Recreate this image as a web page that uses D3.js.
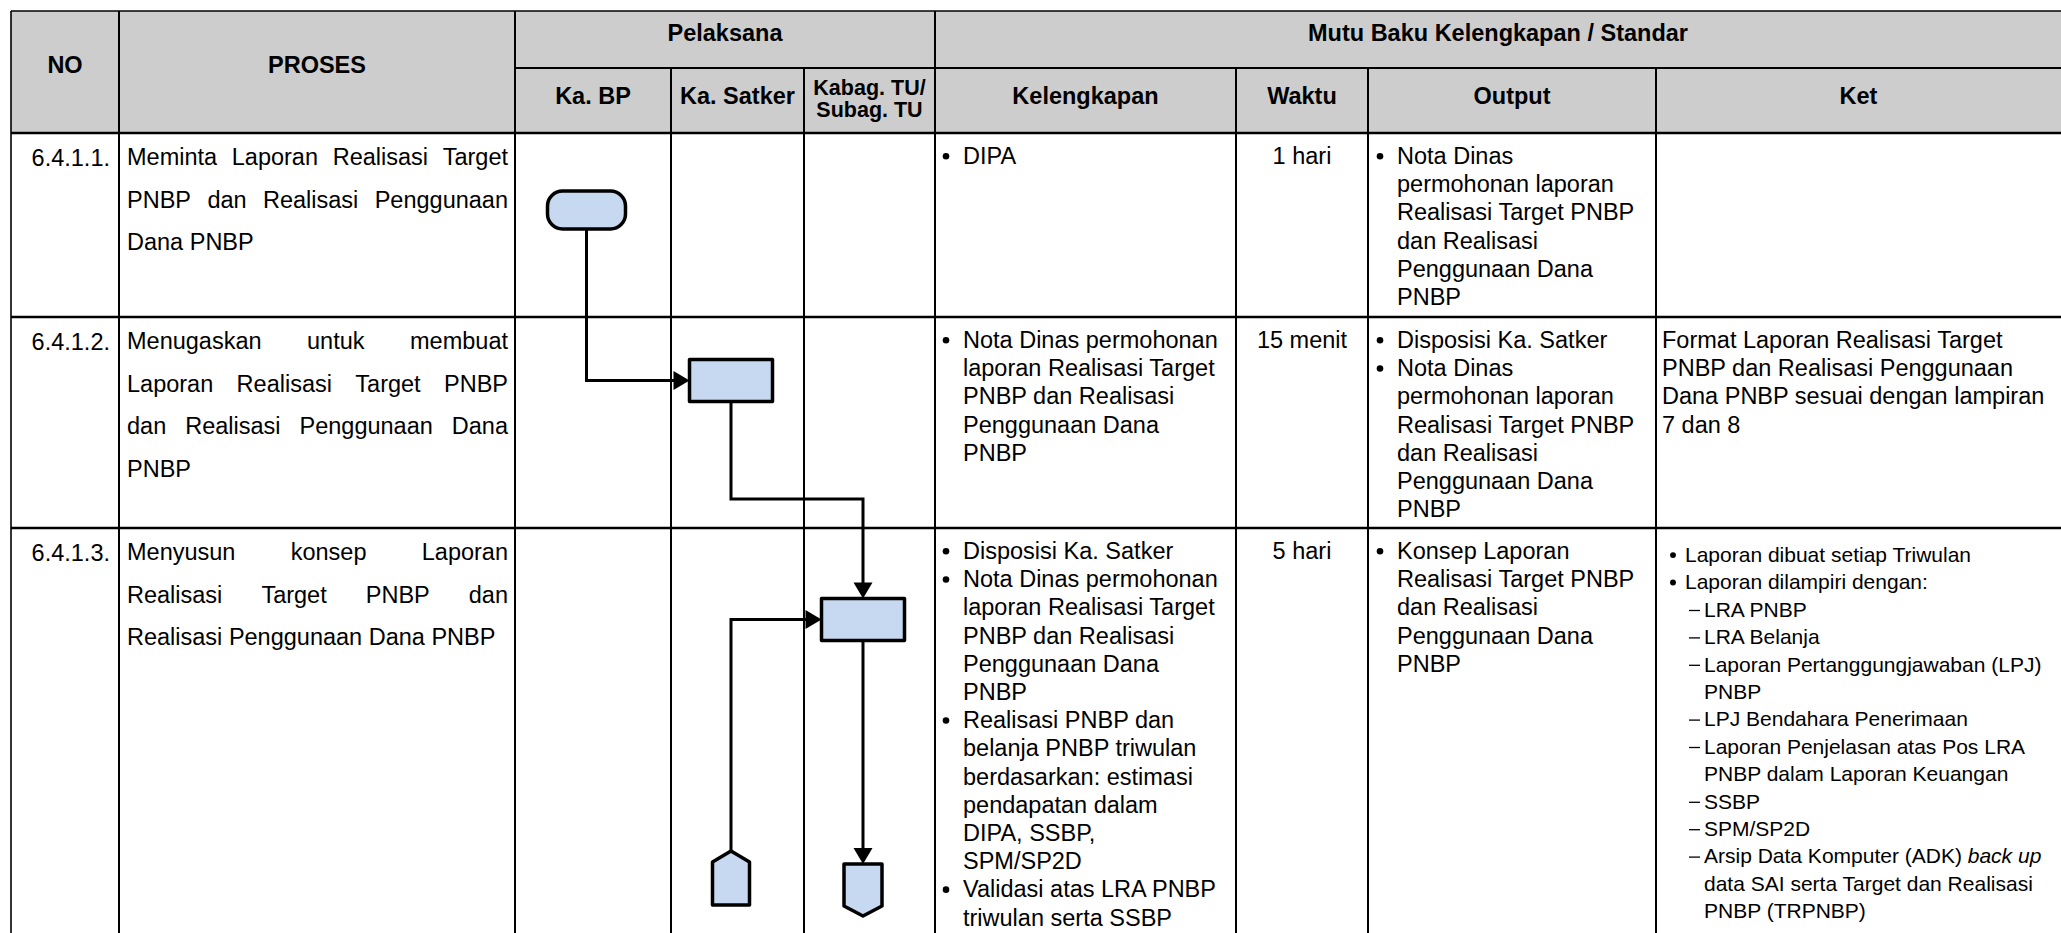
<!DOCTYPE html>
<html><head><meta charset="utf-8">
<script src="https://cdn.jsdelivr.net/npm/d3@7"></script>
<style>html,body{margin:0;padding:0;background:#fff;overflow:hidden}</style>
</head><body>
<svg id="chart" width="2061" height="933"></svg>
<script>
// ---------------- DATA ----------------
const headerTop = ["NO", "PROSES", "Pelaksana", "Mutu Baku Kelengkapan / Standar"];
const laneNames = ["Ka. BP", "Ka. Satker", "Kabag. TU/|Subag. TU"];
const standardNames = ["Kelengkapan", "Waktu", "Output", "Ket"];
const rowNumbers = ["6.4.1.1.", "6.4.1.2.", "6.4.1.3."];
const prosesLines = [
  ["Meminta Laporan Realisasi Target", "PNBP dan Realisasi Penggunaan", "Dana PNBP"],
  ["Menugaskan untuk membuat", "Laporan Realisasi Target PNBP", "dan Realisasi Penggunaan Dana", "PNBP"],
  ["Menyusun konsep Laporan", "Realisasi Target PNBP dan", "Realisasi Penggunaan Dana PNBP"]
];
const kelengkapanItems = [
  [["DIPA"]],
  [["Nota Dinas permohonan", "laporan Realisasi Target", "PNBP dan Realisasi", "Penggunaan Dana", "PNBP"]],
  [["Disposisi Ka. Satker"],
   ["Nota Dinas permohonan", "laporan Realisasi Target", "PNBP dan Realisasi", "Penggunaan Dana", "PNBP"],
   ["Realisasi PNBP dan", "belanja PNBP triwulan", "berdasarkan: estimasi", "pendapatan dalam", "DIPA, SSBP,", "SPM/SP2D"],
   ["Validasi atas LRA PNBP", "triwulan serta SSBP"]]
];
const waktuValues = ["1 hari", "15 menit", "5 hari"];
const outputItems = [
  [["Nota Dinas", "permohonan laporan", "Realisasi Target PNBP", "dan Realisasi", "Penggunaan Dana", "PNBP"]],
  [["Disposisi Ka. Satker"], ["Nota Dinas", "permohonan laporan", "Realisasi Target PNBP", "dan Realisasi", "Penggunaan Dana", "PNBP"]],
  [["Konsep Laporan", "Realisasi Target PNBP", "dan Realisasi", "Penggunaan Dana", "PNBP"]]
];
const ketRow2 = ["Format Laporan Realisasi Target", "PNBP dan Realisasi Penggunaan", "Dana PNBP sesuai dengan lampiran", "7 dan 8"];
const ketRow3 = [
  {mark: "•", lines: ["Laporan dibuat setiap Triwulan"]},
  {mark: "•", lines: ["Laporan dilampiri dengan:"]},
  {mark: "–", lines: ["LRA PNBP"]},
  {mark: "–", lines: ["LRA Belanja"]},
  {mark: "–", lines: ["Laporan Pertanggungjawaban (LPJ)", "PNBP"]},
  {mark: "–", lines: ["LPJ Bendahara Penerimaan"]},
  {mark: "–", lines: ["Laporan Penjelasan atas Pos LRA", "PNBP dalam Laporan Keuangan"]},
  {mark: "–", lines: ["SSBP"]},
  {mark: "–", lines: ["SPM/SP2D"]},
  {mark: "–", lines: ["Arsip Data Komputer (ADK) _back up_", "data SAI serta Target dan Realisasi", "PNBP (TRPNBP)"]}
];
// flowchart: node lane (index into laneNames), step (row index)
const flowNodes = [
  {id: "start", lane: 0, step: 0, shape: "terminator"},
  {id: "p2", lane: 1, step: 1, shape: "process"},
  {id: "p3", lane: 2, step: 2, shape: "process"},
  {id: "inConn", lane: 1, step: 2, shape: "offpageUp"},
  {id: "outConn", lane: 2, step: 2, shape: "offpageDown"}
];
const flowLinks = [
  {from: "start", to: "p2"},
  {from: "p2", to: "p3"},
  {from: "inConn", to: "p3"},
  {from: "p3", to: "outConn"}
];

// ---------------- LAYOUT ----------------
const FONT = "'Liberation Sans', Arial, Helvetica, sans-serif";
const colEdges = [11, 119, 515, 671, 804, 935, 1236, 1368, 1656, 2061];
const yTop = 11, yMid = 68, yHead = 133;
const rowEdges = [133, 317, 528, 960];
const BODY = 23.5, LH = 28.2, PLH = 42.5, HEAD = 23.5;
const FILL_HEAD = "#cdcdcd", FILL_SHAPE = "#c6d9f1";

const svg = d3.select("#chart");
const colKeys = ["no", "proses", "l0", "l1", "l2", "kel", "wak", "out", "ket"];
const xL = d3.scaleOrdinal(colKeys, colEdges.slice(0, 9));
const xR = d3.scaleOrdinal(colKeys, colEdges.slice(1));
const xC = k => (xL(k) + xR(k)) / 2;
const yRow = d3.scaleOrdinal([0, 1, 2], rowEdges.slice(0, 3));

// header background
svg.append("rect").attr("x", colEdges[0]).attr("y", yTop)
  .attr("width", 2061 - colEdges[0]).attr("height", yHead - yTop).attr("fill", FILL_HEAD);

function txt(x, y, s, o = {}) {
  return svg.append("text").attr("x", x).attr("y", y)
    .attr("font-family", FONT).attr("font-size", o.size || BODY)
    .attr("font-weight", o.bold ? "bold" : "normal")
    .attr("text-anchor", o.anchor || "start").attr("fill", "#000").text(s);
}

// header texts
txt(xC("no"), 73, headerTop[0], {bold: true, size: HEAD, anchor: "middle"});
txt(xC("proses"), 73, headerTop[1], {bold: true, size: HEAD, anchor: "middle"});
txt((xL("l0") + xR("l2")) / 2, 41, headerTop[2], {bold: true, size: HEAD, anchor: "middle"});
txt((xL("kel") + 2061) / 2, 41, headerTop[3], {bold: true, size: HEAD, anchor: "middle"});
laneNames.forEach((n, i) => {
  const parts = n.split("|");
  const k = "l" + i;
  if (parts.length === 1) txt(xC(k), 104, n, {bold: true, size: HEAD, anchor: "middle"});
  else parts.forEach((p, j) => txt(xC(k), 95 + j * 21.5, p, {bold: true, size: 21.5, anchor: "middle"}));
});
["kel", "wak", "out", "ket"].forEach((k, i) => {
  const cx = k === "ket" ? (xL("ket") + 2061) / 2 : xC(k);
  txt(cx, 104, standardNames[i], {bold: true, size: HEAD, anchor: "middle"});
});

// justified text line
function justified(x0, x1, y, line, last) {
  const words = line.split(" ");
  const g = svg.append("g");
  const nodes = words.map(w => g.append("text").attr("y", y).attr("font-family", FONT)
    .attr("font-size", BODY).attr("fill", "#000").text(w));
  const widths = nodes.map(n => n.node().getComputedTextLength());
  const total = d3.sum(widths);
  let gap = last || words.length < 2 ? BODY * 0.278 : (x1 - x0 - total) / (words.length - 1);
  let x = x0;
  nodes.forEach((n, i) => { n.attr("x", x); x += widths[i] + gap; });
}

function richText(x, y, s, size) {
  const t = svg.append("text").attr("x", x).attr("y", y).attr("font-family", FONT)
    .attr("font-size", size).attr("fill", "#000");
  s.split("_").forEach((seg, i) => {
    if (seg.length) t.append("tspan").attr("font-style", i % 2 ? "italic" : "normal").text(seg);
  });
}

function bulletList(items, bx, tx, yStart, lh, size) {
  let y = yStart;
  items.forEach(item => {
    svg.append("circle").attr("cx", bx).attr("cy", y - size * 0.33).attr("r", size * 0.14).attr("fill", "#000");
    item.forEach(l => { txt(tx, y, l, {size}); y += lh; });
  });
}

// body rows
rowNumbers.forEach((no, r) => {
  const top = yRow(r);
  txt(xR("no") - 9, top + 33, no, {anchor: "end"});
  prosesLines[r].forEach((l, i) => justified(xL("proses") + 8, xR("proses") - 7, top + 32 + i * PLH, l, i === prosesLines[r].length - 1));
  bulletList(kelengkapanItems[r], xL("kel") + 11, xL("kel") + 28, top + 31, LH, BODY);
  txt(xC("wak"), top + 31, waktuValues[r], {anchor: "middle"});
  bulletList(outputItems[r], xL("out") + 12, xL("out") + 29, top + 31, LH, BODY);
});
ketRow2.forEach((l, i) => txt(xL("ket") + 6, yRow(1) + 31 + i * LH, l));
{
  let y = yRow(2) + 34;
  const KS = 21, KLH = 27.4;
  ketRow3.forEach(it => {
    if (it.mark === "•") {
      svg.append("circle").attr("cx", xL("ket") + 17).attr("cy", y - KS * 0.33).attr("r", KS * 0.14).attr("fill", "#000");
      it.lines.forEach(l => { richText(xL("ket") + 29, y, l, KS); y += KLH; });
    } else {
      svg.append("line").attr("x1", xL("ket") + 33).attr("x2", xL("ket") + 44)
        .attr("y1", y - KS * 0.3).attr("y2", y - KS * 0.3).attr("stroke", "#000").attr("stroke-width", 1.3);
      it.lines.forEach(l => { richText(xL("ket") + 48, y, l, KS); y += KLH; });
    }
  });
}

// table grid
const grid = svg.append("g").attr("stroke", "#000").attr("fill", "none");
const hl = (x1, x2, y, w) => grid.append("line").attr("x1", x1).attr("x2", x2).attr("y1", y).attr("y2", y).attr("stroke-width", w);
const vl = (x, y1, y2, w) => grid.append("line").attr("x1", x).attr("x2", x).attr("y1", y1).attr("y2", y2).attr("stroke-width", w);
hl(colEdges[0], 2061, yTop, 1.6);
hl(xL("l0"), 2061, yMid, 2.2);
[yHead, rowEdges[1], rowEdges[2]].forEach(y => hl(colEdges[0], 2061, y, 2.6));
vl(colEdges[0], yTop, 933, 1.6);
[xL("proses"), xL("l0"), xL("kel")].forEach(x => vl(x, yTop, 933, 2));
[xL("l1"), xL("l2"), xL("wak"), xL("out"), xL("ket")].forEach(x => vl(x, yMid, 933, 2));

// ---------------- FLOWCHART ----------------
const laneX = d3.scaleOrdinal([0, 1, 2], [xC("l0"), xC("l1"), xC("l2")]);
const shapeSize = {terminator: [78, 38], process: [83, 42], offpageUp: [37, 54], offpageDown: [38, 52]};
const nodeYOffset = {start: 77, p2: 63.5, p3: 91.5, inConn: 350, outConn: 362};
const nodes = new Map(flowNodes.map(d => {
  const [w, h] = shapeSize[d.shape];
  return [d.id, {...d, w, h, cx: laneX(d.lane) - 6.5, cy: yRow(d.step) + nodeYOffset[d.id]}];
}));
const flow = svg.append("g");
const ARW = 16, AHW = 9.5;
function arrow(x, y, dir) {
  let pts;
  if (dir === "right") pts = [[x, y], [x - ARW, y - AHW], [x - ARW, y + AHW]];
  else pts = [[x, y], [x - AHW, y - ARW], [x + AHW, y - ARW]];
  flow.append("polygon").attr("points", pts.map(p => p.join(",")).join(" ")).attr("fill", "#000");
}
const line = d3.line();
const routeMid = rowEdges[2] - 29;
flowLinks.forEach(lk => {
  const a = nodes.get(lk.from), b = nodes.get(lk.to);
  let pts, end;
  if (a.shape === "terminator") {
    pts = [[a.cx, a.cy + a.h / 2], [a.cx, b.cy], [b.cx - b.w / 2 - ARW + 1, b.cy]];
    end = [b.cx - b.w / 2, b.cy, "right"];
  } else if (a.lane < b.lane && a.step < b.step) {
    pts = [[a.cx, a.cy + a.h / 2], [a.cx, routeMid], [b.cx, routeMid], [b.cx, b.cy - b.h / 2 - ARW + 1]];
    end = [b.cx, b.cy - b.h / 2, "down"];
  } else if (a.shape === "offpageUp") {
    pts = [[a.cx, a.cy - a.h / 2], [a.cx, b.cy], [b.cx - b.w / 2 - ARW + 1, b.cy]];
    end = [b.cx - b.w / 2, b.cy, "right"];
  } else {
    pts = [[a.cx, a.cy + a.h / 2], [a.cx, b.cy - b.h / 2 - ARW + 1]];
    end = [b.cx, b.cy - b.h / 2, "down"];
  }
  flow.append("path").attr("d", line(pts)).attr("fill", "none").attr("stroke", "#000").attr("stroke-width", 3);
  arrow(...end);
});
nodes.forEach(d => {
  const x0 = d.cx - d.w / 2, x1 = d.cx + d.w / 2, y0 = d.cy - d.h / 2, y1 = d.cy + d.h / 2;
  let sel;
  if (d.shape === "terminator") {
    sel = flow.append("rect").attr("x", x0).attr("y", y0).attr("width", d.w).attr("height", d.h).attr("rx", 15).attr("ry", 15);
  } else if (d.shape === "process") {
    sel = flow.append("rect").attr("x", x0).attr("y", y0).attr("width", d.w).attr("height", d.h);
  } else if (d.shape === "offpageUp") {
    sel = flow.append("polygon").attr("points", [[x0, y0 + 11], [d.cx, y0], [x1, y0 + 11], [x1, y1], [x0, y1]].map(p => p.join(",")).join(" "));
  } else {
    sel = flow.append("polygon").attr("points", [[x0, y0], [x1, y0], [x1, y1 - 10], [d.cx, y1], [x0, y1 - 10]].map(p => p.join(",")).join(" "));
  }
  sel.attr("fill", FILL_SHAPE).attr("stroke", "#000").attr("stroke-width", 3.5).attr("stroke-linejoin", "round");
});
</script>
</body></html>
